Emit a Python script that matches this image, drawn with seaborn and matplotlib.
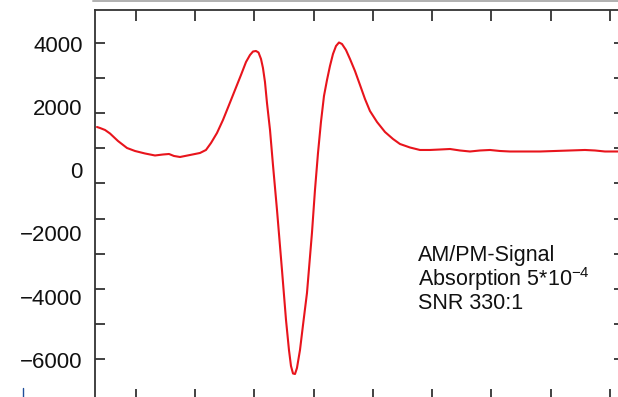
import numpy as np
import pandas as pd
import matplotlib
matplotlib.use("Agg")
import matplotlib.pyplot as plt
from matplotlib.lines import Line2D
import seaborn as sns

# Detuning position (arbitrary units, one unit per x tick)
x_pos = [-0.658, -0.608, -0.523, -0.439, -0.304, -0.152, -0.017, 0.152, 0.321, 0.456,
         0.557, 0.641, 0.743, 0.911, 1.080, 1.181, 1.266, 1.367, 1.468, 1.570,
         1.671, 1.772, 1.857, 1.924, 1.975, 2.025, 2.068, 2.110, 2.143, 2.177,
         2.211, 2.262, 2.312, 2.380, 2.464, 2.532, 2.582, 2.616, 2.650, 2.684,
         2.717, 2.768, 2.819, 2.886, 2.970, 3.021, 3.072, 3.122, 3.173, 3.224,
         3.274, 3.325, 3.376, 3.426, 3.477, 3.544, 3.612, 3.696, 3.781, 3.865,
         3.949, 4.068, 4.203, 4.338, 4.456, 4.624, 4.793, 4.962, 5.131, 5.300,
         5.468, 5.637, 5.806, 5.975, 6.143, 6.312, 6.565, 6.819, 7.072, 7.325,
         7.578, 7.747, 7.916, 8.135]

# AM/PM demodulated signal
signal = [1366, 1335, 1272, 1161, 923, 702, 607, 528, 465, 496,
          512, 449, 417, 480, 544, 639, 860, 1177, 1588, 2063,
          2538, 3012, 3424, 3645, 3756, 3772, 3724, 3519, 3234, 2791,
          2126, 1272, 164, -1261, -3160, -4742, -5692, -6198, -6435, -6451,
          -6261, -5692, -4900, -3887, -1988, -628, 544, 1525, 2348, 2854,
          3297, 3677, 3930, 4041, 3993, 3804, 3519, 3139, 2696, 2253,
          1873, 1525, 1208, 987, 828, 718, 639, 639, 654, 670,
          623, 591, 623, 639, 607, 591, 591, 591, 607, 623,
          639, 623, 591, 591]

y_label_values = [4000, 2000, 0, -2000, -4000, -6000]
y_tick_marks = [4035, 2921, 1807, 693, -421, -1535, -2649, -3763, -4877, -5991]
x_tick_marks = [0, 1, 2, 3, 4, 5, 6, 7, 8]

info_lines = ["AM/PM-Signal", r"Absorption 5*10$^{-4}$", "SNR 330:1"]

sns.set_style("ticks")
plt.rcParams["font.family"] = ["Liberation Sans", "DejaVu Sans"]
plt.rcParams["mathtext.fontset"] = "custom"
plt.rcParams["mathtext.rm"] = "Liberation Sans"
plt.rcParams["mathtext.it"] = "Liberation Sans"
plt.rcParams["mathtext.default"] = "regular"

W, H = 618, 397
fig = plt.figure(figsize=(W / 100, H / 100), dpi=100)
# axes frame: left edge at 95 px, top at 9.5 px; right and bottom edges fall just outside the canvas
ax = fig.add_axes([95 / W, -3 / H, 529 / W, 390.5 / H])

df = pd.DataFrame({"x": x_pos, "signal": signal})
sns.lineplot(data=df, x="x", y="signal", ax=ax, color="#e8141c", linewidth=1.5,
             sort=False, estimator=None)

ax.set_xlim(-0.692, 8.237)
ax.set_ylim(-7274, 5085)
ax.set_xlabel("")
ax.set_ylabel("")

# labelled values without marks; tick marks drawn as minor ticks
ax.set_yticks(y_label_values)
ax.set_yticklabels([f"{v:d}".replace("-", "\u2212") for v in y_label_values])
ax.set_yticks(y_tick_marks, minor=True)
ax.tick_params(axis="y", which="major", length=0, pad=9, labelsize=16, labelcolor="#111111")
ax.tick_params(axis="y", which="minor", direction="in", length=7, width=1.3,
               color="#333333", left=True, right=True)

ax.set_xticks(x_tick_marks)
ax.set_xticklabels([])
ax.tick_params(axis="x", which="major", direction="in", length=8, width=1.3,
               color="#333333", top=True, bottom=True, labelbottom=False)
ax.tick_params(axis="x", which="minor", bottom=False, top=False)

for side in ["left", "right", "top", "bottom"]:
    ax.spines[side].set_visible(True)
    ax.spines[side].set_linewidth(1.3)
    ax.spines[side].set_color("#333333")

baselines = [260.5, 286.0, 309.0]
for line, yb in zip(info_lines, baselines):
    fig.text(418 / W, 1 - yb / H, line, fontsize=15.5, color="#111111",
             ha="left", va="baseline")

# faint frame edge along the top
fig.add_artist(Line2D([93 / W, 1.0], [1 - 0.8 / H, 1 - 0.8 / H], color="#b0b0b0",
                      linewidth=1.4, transform=fig.transFigure))
fig.add_artist(Line2D([23 / W, 23 / W], [1 - 388 / H, 0.0], color="#1f4e9a",
                      linewidth=1.0, transform=fig.transFigure))

fig.savefig("out.png", dpi=100)
